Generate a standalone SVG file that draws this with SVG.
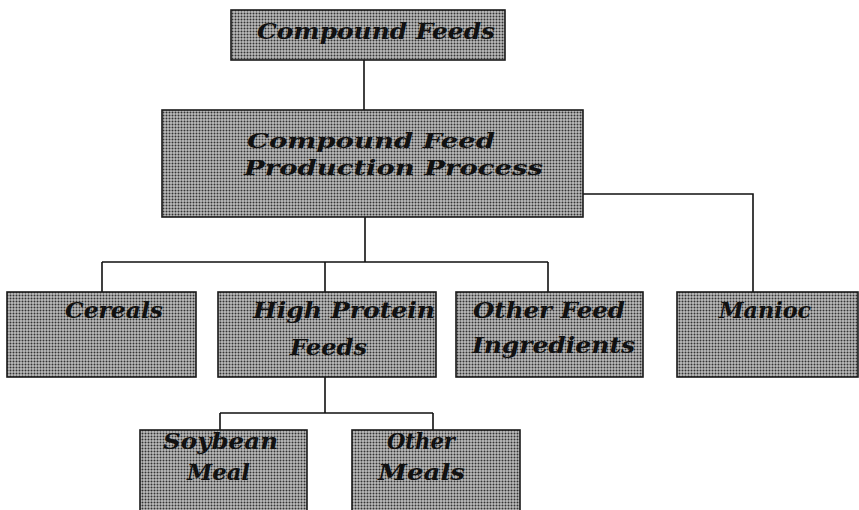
<svg xmlns="http://www.w3.org/2000/svg" width="859" height="510" viewBox="0 0 859 510">
<defs>
<pattern id="dots" width="3" height="3" patternUnits="userSpaceOnUse">
<rect width="3" height="3" fill="#bcbcbc"/>
<circle cx="1.5" cy="1.5" r="1" fill="#333333"/>
</pattern>
</defs>
<style>
.box{fill:url(#dots);stroke:#1a1a1a;stroke-width:1.6}
.lbl{font-family:"DejaVu Serif","Liberation Serif",serif;font-weight:bold;font-style:italic;fill:#111}
.s22{font-size:22px}
.s21{font-size:21px}
.conn{fill:none;stroke:#111;stroke-width:1.6}
</style>
<rect width="859" height="510" fill="#ffffff"/>
<g id="connectors">
<path class="conn" d="M364 60 V110"/>
<path class="conn" d="M365 217 V262 M102 262 H548 M102 262 V292 M325 262 V292 M548 262 V292"/>
<path class="conn" d="M583 194 H753 V292"/>
<path class="conn" d="M325 377 V413 M220 413 H433 M220 413 V430 M433 413 V430"/>
</g>
<g id="compound-feeds">
<rect class="box" x="231" y="10" width="274" height="50"/>
<text class="lbl s22" x="257" y="39" textLength="238" lengthAdjust="spacingAndGlyphs">Compound Feeds</text>
</g>
<g id="production-process">
<rect class="box" x="162" y="110" width="421" height="107"/>
<text class="lbl s21" x="247" y="148" textLength="248" lengthAdjust="spacingAndGlyphs">Compound Feed</text>
<text class="lbl s21" x="244" y="175" textLength="299" lengthAdjust="spacingAndGlyphs">Production Process</text>
</g>
<g id="cereals">
<rect class="box" x="7" y="292" width="189" height="85"/>
<text class="lbl s22" x="65" y="318" textLength="98" lengthAdjust="spacingAndGlyphs">Cereals</text>
</g>
<g id="high-protein-feeds">
<rect class="box" x="218" y="292" width="218" height="85"/>
<text class="lbl s22" x="253" y="318" textLength="182" lengthAdjust="spacingAndGlyphs">High Protein</text>
<text class="lbl s22" x="290" y="355" textLength="77" lengthAdjust="spacingAndGlyphs">Feeds</text>
</g>
<g id="other-feed-ingredients">
<rect class="box" x="456" y="292" width="187" height="85"/>
<text class="lbl s22" x="473" y="318" textLength="152" lengthAdjust="spacingAndGlyphs">Other Feed</text>
<text class="lbl s22" x="472" y="353" textLength="163" lengthAdjust="spacingAndGlyphs">Ingredients</text>
</g>
<g id="manioc">
<rect class="box" x="677" y="292" width="181" height="85"/>
<text class="lbl s22" x="719" y="318" textLength="92" lengthAdjust="spacingAndGlyphs">Manioc</text>
</g>
<g id="soybean-meal">
<rect class="box" x="140" y="430" width="167" height="84"/>
<text class="lbl s22" x="163" y="449" textLength="115" lengthAdjust="spacingAndGlyphs">Soybean</text>
<text class="lbl s22" x="187" y="480" textLength="63" lengthAdjust="spacingAndGlyphs">Meal</text>
</g>
<g id="other-meals">
<rect class="box" x="352" y="430" width="168" height="84"/>
<text class="lbl s22" x="387" y="449" textLength="68" lengthAdjust="spacingAndGlyphs">Other</text>
<text class="lbl s22" x="378" y="480" textLength="87" lengthAdjust="spacingAndGlyphs">Meals</text>
</g>
</svg>
